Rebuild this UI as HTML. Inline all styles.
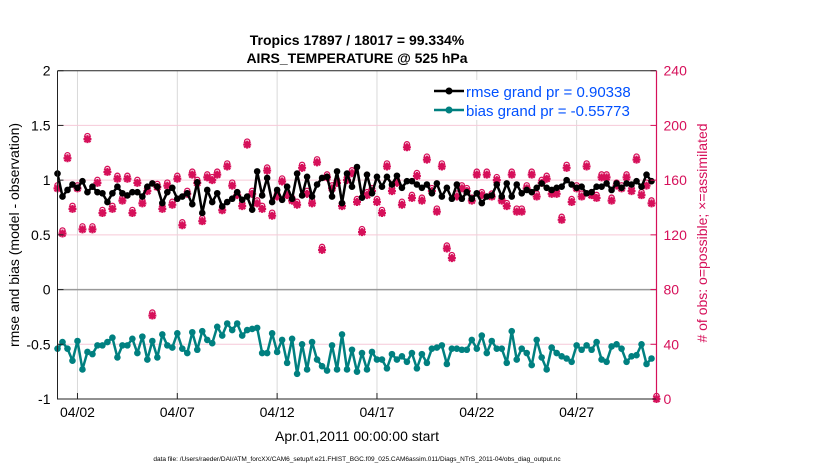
<!DOCTYPE html>
<html><head><meta charset="utf-8"><style>
body{margin:0;background:#fff;}
svg text{font-family:"Liberation Sans",sans-serif;}
</style></head><body>
<svg id="chart" width="830" height="470" viewBox="0 0 830 470" xmlns="http://www.w3.org/2000/svg">
<rect width="830" height="470" fill="#fff"/>
<g id="grid"></g>
<g id="marks"></g>
<g id="axes"></g>
<text x="357" y="45" text-anchor="middle" font-size="14" font-weight="bold">Tropics 17897 / 18017 = 99.334%</text>
<text x="357" y="63" text-anchor="middle" font-size="14" font-weight="bold">AIRS_TEMPERATURE @ 525 hPa</text>
<text x="357" y="441" text-anchor="middle" font-size="14">Apr.01,2011 00:00:00 start</text>
<text transform="translate(19,235) rotate(-90)" text-anchor="middle" font-size="14">rmse and bias (model - observation)</text>
<text transform="translate(707,233) rotate(-90)" text-anchor="middle" font-size="14" fill="#d6105a"># of obs: o=possible; ×=assimilated</text>
<text x="357" y="461" text-anchor="middle" font-size="6.5">data file: /Users/raeder/DAI/ATM_forcXX/CAM6_setup/f.e21.FHIST_BGC.f09_025.CAM6assim.011/Diags_NTrS_2011-04/obs_diag_output.nc</text>
<g>
<rect x="430" y="80" width="222" height="40" fill="#fff"/>
<line x1="434" y1="91" x2="464" y2="91" stroke="#000" stroke-width="2.5"/>
<circle cx="449" cy="91" r="3.5" fill="#000"/>
<text x="466" y="97" font-size="15" fill="#0050ff">rmse grand pr = 0.90338</text>
<line x1="434" y1="110" x2="464" y2="110" stroke="#008080" stroke-width="2.5"/>
<circle cx="449" cy="110" r="3.5" fill="#008080"/>
<text x="466" y="116" font-size="15" fill="#0050ff">bias grand pr = -0.55773</text>
</g>
</svg>
<script>
const xTickLabels = ["04/02","04/07","04/12","04/17","04/22","04/27"];
const xTickDays = [1,6,11,16,21,26];
const yLeftTicks = [2,1.5,1,0.5,0,-0.5,-1];
const yLeftTickLabels = ["2","1.5","1","0.5","0","-0.5","-1"];
const yRightTicks = [0,40,80,120,160,200,240];
const rmse = [1.06,0.85,0.91,0.96,0.93,0.99,0.89,0.94,0.89,0.88,0.80,0.88,0.94,0.88,0.86,0.89,0.89,0.85,0.94,0.97,0.94,0.79,0.89,0.93,0.83,0.85,0.88,0.78,0.98,0.70,0.91,0.80,0.88,0.76,0.80,0.83,0.89,0.82,0.85,0.73,1.08,0.86,1.02,0.80,0.91,0.82,0.94,0.83,1.06,0.86,1.03,0.85,0.96,1.02,1.03,0.85,1.08,0.79,1.06,0.94,1.12,
0.84,1.05,0.88,1.03,0.94,1.03,0.96,1.04,0.93,0.99,0.99,0.96,0.93,0.96,0.88,0.97,0.85,0.93,0.83,0.96,0.83,0.89,0.83,0.88,0.79,0.85,0.86,0.96,0.85,0.97,0.85,0.96,0.88,0.91,0.89,0.93,0.97,0.93,0.91,0.93,0.94,1.00,0.96,0.93,0.94,0.88,0.89,0.94,0.94,0.97,0.91,0.97,0.93,0.97,0.96,0.99,0.94,1.05,0.99];
const bias = [-0.54,-0.48,-0.54,-0.65,-0.47,-0.73,-0.57,-0.59,-0.51,-0.51,-0.48,-0.44,-0.62,-0.51,-0.51,-0.45,-0.58,-0.43,-0.64,-0.47,-0.62,-0.41,-0.51,-0.53,-0.40,-0.54,-0.58,-0.39,-0.55,-0.38,-0.46,-0.49,-0.34,-0.42,-0.31,-0.37,-0.31,-0.42,-0.37,-0.36,-0.35,-0.58,-0.58,-0.40,-0.57,-0.46,-0.67,-0.45,-0.77,-0.50,-0.73,-0.48,-0.64,-0.70,-0.74,-0.51,-0.73,-0.41,-0.73,-0.55,-0.75,
-0.58,-0.73,-0.57,-0.64,-0.64,-0.72,-0.59,-0.64,-0.61,-0.66,-0.58,-0.72,-0.59,-0.67,-0.54,-0.53,-0.51,-0.68,-0.54,-0.54,-0.55,-0.55,-0.46,-0.54,-0.42,-0.58,-0.47,-0.54,-0.54,-0.67,-0.38,-0.64,-0.54,-0.58,-0.69,-0.46,-0.62,-0.73,-0.53,-0.58,-0.61,-0.63,-0.66,-0.51,-0.55,-0.51,-0.55,-0.48,-0.64,-0.66,-0.52,-0.50,-0.54,-0.66,-0.61,-0.60,-0.50,-0.68,-0.63];
const nPossible = [154,121,176,139,154,124,190,124,158,136,166,139,161,145,161,136,158,143,152,61,155,139,156,142,161,127,150,164,158,130,162,160,164,138,170,156,149,141,186,150,143,139,167,134,148,159,149,145,142,169,150,143,173,109,162,154,158,141,160,165,144,
122,149,152,144,136,170,152,158,142,184,147,163,145,175,152,137,170,110,103,148,154,152,145,164,149,164,148,160,145,141,164,137,137,154,164,148,158,161,150,150,131,169,144,154,148,170,149,147,162,162,145,156,154,162,152,175,149,156,143,0];
const nAssim = nPossible.slice();

const NS="http://www.w3.org/2000/svg";
const L=57.5,R=656.5,T=70.7,B=399;
const dayStep=0.25, days=30;
const xs=d=>L+(R-L)*d/days;
const yl=v=>T+(2-v)*(B-T)/3;
const yr=c=>B-c*(B-T)/240;
function mk(tag,attrs,parent){const e=document.createElementNS(NS,tag);for(const k in attrs)e.setAttribute(k,attrs[k]);parent.appendChild(e);return e;}
const grid=document.getElementById('grid'),marks=document.getElementById('marks'),axes=document.getElementById('axes');
mk('rect',{x:L,y:T,width:R-L,height:B-T,fill:'#fff'},grid);
xTickDays.forEach((d,i)=>{
  const g=mk('line',{x1:xs(d),x2:xs(d),y1:T,y2:B,stroke:'#d9d9d9','stroke-width':1},grid);
  
  
  const t=mk('line',{x1:xs(d),x2:xs(d),y1:B,y2:B-6,stroke:'#222','stroke-width':1},axes);
  
  
  const lb=mk('text',{x:xs(d),y:B+18,'text-anchor':'middle','font-size':14},axes);
  lb.textContent=xTickLabels[i];
  
  
});
yRightTicks.forEach(c=>{
  if(c>0&&c<240&&c!==80){
    const g=mk('line',{x1:L,x2:R,y1:yr(c),y2:yr(c),stroke:'#f6c9d8','stroke-width':1},grid);
    
    
  }
  const t=mk('line',{x1:R,x2:R-6,y1:yr(c),y2:yr(c),stroke:'#d6105a','stroke-width':1},axes);
  
  
  const lb=mk('text',{x:R+7,y:yr(c)+5,'font-size':14,fill:'#d6105a'},axes);
  lb.textContent=String(c);
  
  
});
const z=mk('line',{x1:L,x2:R,y1:yl(0),y2:yl(0),stroke:'#999','stroke-width':1.5},grid);


yLeftTicks.forEach((v,i)=>{
  const t=mk('line',{x1:L,x2:L+6,y1:yl(v),y2:yl(v),stroke:'#222','stroke-width':1},axes);
  
  
  const lb=mk('text',{x:L-7,y:yl(v)+5,'text-anchor':'end','font-size':14},axes);
  lb.textContent=yLeftTickLabels[i];
  
  
});
// obs count markers
nPossible.forEach((c,i)=>{
  const x=xs(i*dayStep),y=yr(c);
  const o=mk('circle',{cx:x,cy:y-3,r:2.6,fill:'none',stroke:'#d6105a','stroke-width':1.3},marks);
  
  
});
nAssim.forEach((c,i)=>{
  const x=xs(i*dayStep),y=yr(c);
  const s=mk('path',{d:`M${x-4},${y}H${x+4}M${x},${y-4}V${y+4}M${x-3},${y-3}L${x+3},${y+3}M${x-3},${y+3}L${x+3},${y-3}`,stroke:'#d6105a','stroke-width':2.2},marks);
  
  
});
function series(vals,color,name){
  const p=mk('polyline',{points:vals.map((v,i)=>xs(i*dayStep)+','+yl(v)).join(' '),fill:'none',stroke:color,'stroke-width':2.5,'stroke-linejoin':'round'},marks);
  
  
  vals.forEach((v,i)=>{
    const c=mk('circle',{cx:xs(i*dayStep),cy:yl(v),r:3.3,fill:color},marks);
    
    
  });
}
series(bias,'#008080','bias');
series(rmse,'#000000','rmse');
const ax=mk('path',{d:`M${L},${T}V${B}H${R}M${L},${T}H${R}`,fill:'none',stroke:'#222','stroke-width':1},axes);


const ra=mk('line',{x1:R,x2:R,y1:T,y2:B,stroke:'#d6105a','stroke-width':1.2},axes);


</script>
</body></html>
